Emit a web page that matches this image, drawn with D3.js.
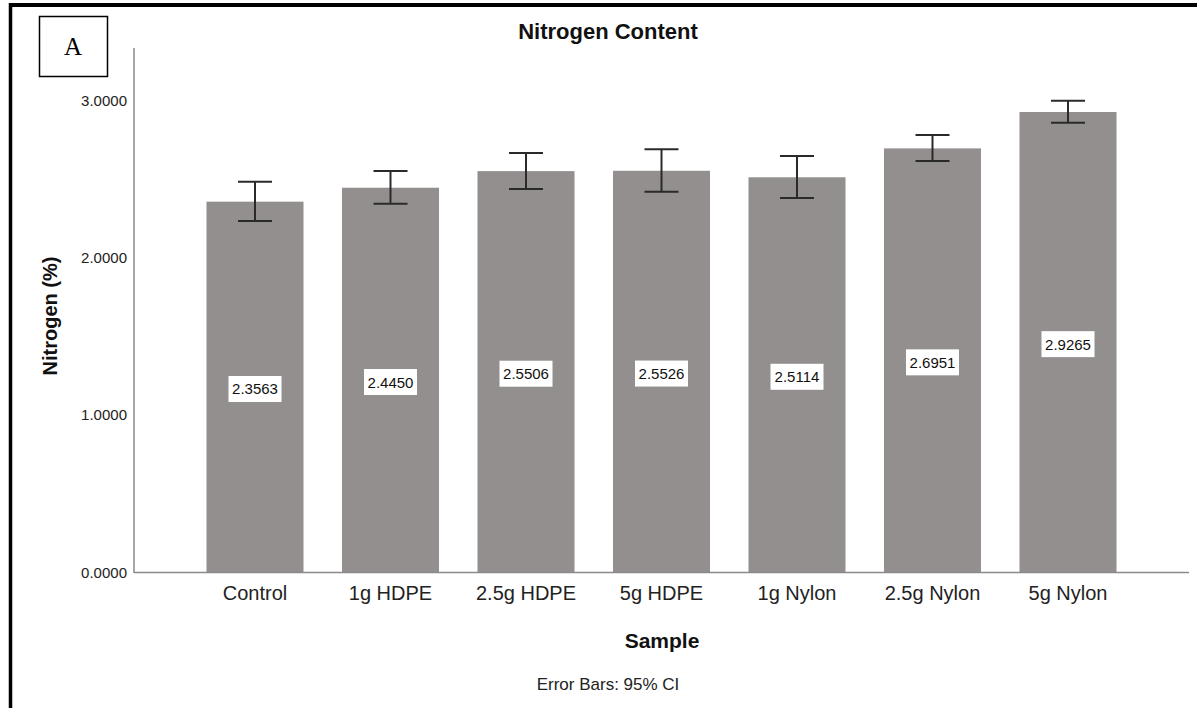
<!DOCTYPE html>
<html>
<head>
<meta charset="utf-8">
<script src="https://cdn.jsdelivr.net/npm/d3@7"></script>
<style>
  html, body { margin: 0; padding: 0; background: #fff; }
  svg { display: block; }
  text { font-family: "Liberation Sans", Arial, sans-serif; }
</style>
</head>
<body>
<svg id="chart" width="1197" height="708"></svg>
<script>
const categories = ["Control", "1g HDPE", "2.5g HDPE", "5g HDPE", "1g Nylon", "2.5g Nylon", "5g Nylon"];
const means  = [2.3563, 2.4450, 2.5506, 2.5526, 2.5114, 2.6951, 2.9265];
const ciLow  = [2.233, 2.343, 2.437, 2.420, 2.380, 2.615, 2.858];
const ciHigh = [2.483, 2.551, 2.666, 2.689, 2.647, 2.780, 2.998];
const yTicks = [0, 1, 2, 3];

const svg = d3.select("#chart");

// outer frame (top + left)
svg.append("line").attr("x1", 10.5).attr("x2", 1197).attr("y1", 5).attr("y2", 5)
  .attr("stroke", "#000").attr("stroke-width", 4);
svg.append("line").attr("x1", 10.5).attr("x2", 10.5).attr("y1", 3).attr("y2", 708)
  .attr("stroke", "#000").attr("stroke-width", 3.5);

// panel label box
svg.append("rect").attr("x", 39.5).attr("y", 16.5).attr("width", 68).attr("height", 60)
  .attr("fill", "#fff").attr("stroke", "#000").attr("stroke-width", 1.5);
svg.append("text").attr("x", 73).attr("y", 55).attr("text-anchor", "middle")
  .style("font-family", "'Liberation Serif', 'Times New Roman', serif")
  .style("font-size", "25px").attr("fill", "#000").text("A");

const x = d3.scaleBand().domain(categories).range([134, 1189])
  .paddingInner(0.284).paddingOuter(0.535);
const y = d3.scaleLinear().domain([0, 3.3333]).range([572.3, 48]);

// bars
svg.append("g").selectAll("rect").data(categories).join("rect")
  .attr("x", d => x(d)).attr("width", x.bandwidth())
  .attr("y", (d, i) => y(means[i])).attr("height", (d, i) => y(0) - y(means[i]))
  .attr("fill", "#938f8e");

// error bars
const capW = 34;
const eb = svg.append("g").attr("stroke", "#2a2a2a").attr("stroke-width", 2);
categories.forEach((c, i) => {
  const cx = x(c) + x.bandwidth() / 2;
  eb.append("line").attr("x1", cx).attr("x2", cx).attr("y1", y(ciHigh[i])).attr("y2", y(ciLow[i]));
  eb.append("line").attr("x1", cx - capW / 2).attr("x2", cx + capW / 2).attr("y1", y(ciHigh[i])).attr("y2", y(ciHigh[i]));
  eb.append("line").attr("x1", cx - capW / 2).attr("x2", cx + capW / 2).attr("y1", y(ciLow[i])).attr("y2", y(ciLow[i]));
});

// value labels
const lab = svg.append("g");
categories.forEach((c, i) => {
  const cx = x(c) + x.bandwidth() / 2;
  const cy = y(means[i] / 2) + 2;
  lab.append("rect").attr("x", cx - 26.5).attr("y", cy - 13).attr("width", 53).attr("height", 26)
    .attr("fill", "#fff");
  lab.append("text").attr("x", cx).attr("y", cy + 5.5).attr("text-anchor", "middle")
    .style("font-size", "15px").attr("fill", "#111").text(means[i].toFixed(4));
});

// y axis
const yAxis = svg.append("g").attr("transform", "translate(134,0)")
  .call(d3.axisLeft(y).tickValues(yTicks).tickFormat(d3.format(".4f")).tickSize(0).tickPadding(7));
yAxis.select(".domain").remove();
yAxis.selectAll("text").style("font-size", "15px").attr("fill", "#222");
svg.append("line").attr("x1", 134).attr("x2", 134).attr("y1", 48).attr("y2", 573)
  .attr("stroke", "#8a8a8a").attr("stroke-width", 1.5);

// x axis
const xAxis = svg.append("g").attr("transform", "translate(0,572.3)")
  .call(d3.axisBottom(x).tickSize(0).tickPadding(14));
xAxis.select(".domain").remove();
xAxis.selectAll("text").style("font-size", "20px").attr("fill", "#222");
svg.append("line").attr("x1", 134).attr("x2", 1189).attr("y1", 572.6).attr("y2", 572.6)
  .attr("stroke", "#8a8a8a").attr("stroke-width", 1.5);

// titles
svg.append("text").attr("x", 608).attr("y", 39).attr("text-anchor", "middle")
  .style("font-size", "22px").style("font-weight", "bold").attr("fill", "#111").text("Nitrogen Content");
svg.append("text").attr("x", 662).attr("y", 648).attr("text-anchor", "middle")
  .style("font-size", "21px").style("font-weight", "bold").attr("fill", "#111").text("Sample");
svg.append("text").attr("x", 608).attr("y", 690).attr("text-anchor", "middle")
  .style("font-size", "17px").attr("fill", "#222").text("Error Bars: 95% CI");
svg.append("text").attr("transform", "translate(57,316) rotate(-90)").attr("text-anchor", "middle")
  .style("font-size", "20px").style("font-weight", "bold").attr("fill", "#111").text("Nitrogen (%)");
</script>
</body>
</html>
